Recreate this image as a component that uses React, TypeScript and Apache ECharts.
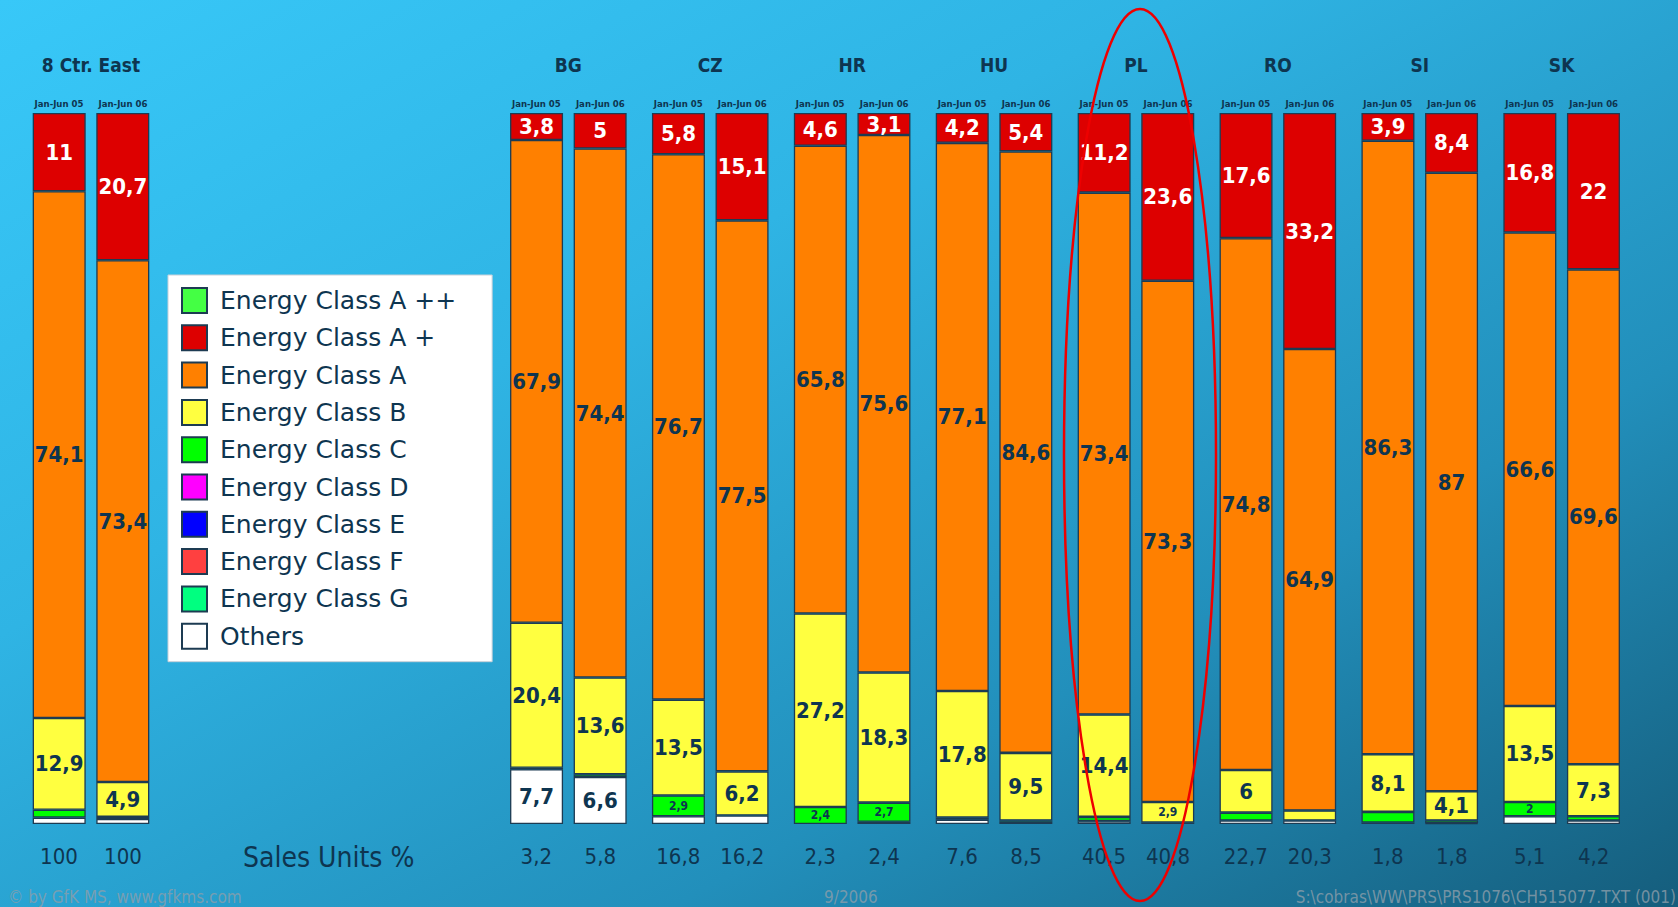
import React, { useEffect, useRef } from "react";
import * as echarts from "echarts";

const categories = ["8 Ctr. East", "BG", "CZ", "HR", "HU", "PL", "RO", "SI", "SK"];
const periodLabels = ["Jan-Jun 05", "Jan-Jun 06"];

const aPlusPlus05 = [0, 0, 0, 0, 0, 0, 0, 0, 0];
const aPlusPlus06 = [0, 0, 0, 0, 0, 0, 0, 0, 0];
const aPlus05 = [11, 3.8, 5.8, 4.6, 4.2, 11.2, 17.6, 3.9, 16.8];
const aPlus06 = [20.7, 5, 15.1, 3.1, 5.4, 23.6, 33.2, 8.4, 22];
const a05 = [74.1, 67.9, 76.7, 65.8, 77.1, 73.4, 74.8, 86.3, 66.6];
const a06 = [73.4, 74.4, 77.5, 75.6, 84.6, 73.3, 64.9, 87, 69.6];
const b05 = [12.9, 20.4, 13.5, 27.2, 17.8, 14.4, 6, 8.1, 13.5];
const b06 = [4.9, 13.6, 6.2, 18.3, 9.5, 2.9, 1.4, 4.1, 7.3];
const c05 = [1.1, 0.2, 2.9, 2.4, 0.3, 0.6, 1.1, 1.5, 2];
const c06 = [0.3, 0.4, 0, 2.7, 0.2, 0, 0, 0.4, 0.6];
const d05 = [0, 0, 0, 0, 0, 0, 0, 0, 0];
const d06 = [0, 0, 0, 0, 0, 0, 0, 0, 0];
const e05 = [0, 0, 0, 0, 0, 0, 0, 0, 0];
const e06 = [0, 0, 0, 0, 0, 0, 0, 0, 0];
const f05 = [0, 0, 0, 0, 0, 0, 0, 0, 0];
const f06 = [0, 0, 0, 0, 0, 0, 0, 0, 0];
const g05 = [0, 0, 0, 0, 0, 0, 0, 0, 0];
const g06 = [0, 0, 0, 0, 0, 0, 0, 0, 0];
const others05 = [0.9, 7.7, 1.1, 0, 0.6, 0.4, 0.5, 0.2, 1.1];
const others06 = [0.7, 6.6, 1.2, 0.3, 0.3, 0.2, 0.5, 0.1, 0.5];

const salesUnits05 = [100, 3.2, 16.8, 2.3, 7.6, 40.5, 22.7, 1.8, 5.1];
const salesUnits06 = [100, 5.8, 16.2, 2.4, 8.5, 40.8, 20.3, 1.8, 4.2];

const classes = [
  { name: "Energy Class A ++", color: "#44ff44", d05: aPlusPlus05, d06: aPlusPlus06 },
  { name: "Energy Class A +", color: "#dd0000", d05: aPlus05, d06: aPlus06 },
  { name: "Energy Class A", color: "#ff8000", d05: a05, d06: a06 },
  { name: "Energy Class B", color: "#ffff40", d05: b05, d06: b06 },
  { name: "Energy Class C", color: "#00ff00", d05: c05, d06: c06 },
  { name: "Energy Class D", color: "#ff00ff", d05: d05, d06: d06 },
  { name: "Energy Class E", color: "#0000ff", d05: e05, d06: e06 },
  { name: "Energy Class F", color: "#ff4040", d05: f05, d06: f06 },
  { name: "Energy Class G", color: "#00ff80", d05: g05, d06: g06 },
  { name: "Others", color: "#ffffff", d05: others05, d06: others06 },
];

const NAVY = "#0e3550";
const COND = "'DejaVu Sans Condensed', 'DejaVu Sans', sans-serif";
const SANS = "'DejaVu Sans', sans-serif";
const FOOT = "rgba(140,158,170,0.8)";
const fmt = (v: number) => String(v).replace(".", ",");

export default function App() {
  const ref = useRef<HTMLDivElement>(null);
  useEffect(() => {
    if (!ref.current) return;
    const chart = echarts.init(ref.current, null, { renderer: "svg" });

    const grids = [
      { left: 20, top: 113, width: 142, height: 711 },
      { left: 497.4, top: 113, width: 1135.2, height: 711 },
    ];
    const gridCats = [categories.slice(0, 1), categories.slice(1)];
    const gridBase = [0, 1];

    const xAxes: any[] = [];
    gridCats.forEach((cats, gi) => {
      const base = gridBase[gi];
      xAxes.push({
        type: "category",
        gridIndex: gi,
        position: "top",
        data: cats,
        axisLine: { show: false },
        axisTick: { show: false },
        axisLabel: {
          interval: 0,
          margin: 5,
          formatter: () => `{p|${periodLabels[0]}}{p|${periodLabels[1]}}`,
          rich: {
            p: { width: 64, align: "center", fontSize: 9.5, fontWeight: "bold", color: NAVY, fontFamily: COND },
          },
        },
      });
      xAxes.push({
        type: "category",
        gridIndex: gi,
        position: "top",
        offset: 30,
        data: cats,
        axisLine: { show: false },
        axisTick: { show: false },
        axisLabel: { interval: 0, margin: 9, fontSize: 19, fontWeight: "bold", color: NAVY, fontFamily: COND },
      });
      xAxes.push({
        type: "category",
        gridIndex: gi,
        position: "bottom",
        data: cats,
        axisLine: { show: false },
        axisTick: { show: false },
        axisLabel: {
          interval: 0,
          margin: 21,
          formatter: (_v: string, i: number) =>
            `{v|${fmt(salesUnits05[base + i])}}{v|${fmt(salesUnits06[base + i])}}`,
          rich: { v: { width: 64, align: "center", fontSize: 22, color: NAVY, fontFamily: COND } },
        },
      });
    });

    const yAxes = grids.map((_, gi) => ({
      type: "value",
      gridIndex: gi,
      min: 0,
      max: 100,
      show: false,
    }));

    const series: any[] = [];
    gridCats.forEach((_cats, gi) => {
      const base = gridBase[gi];
      const count = gridCats[gi].length;
      ["05", "06"].forEach((p) => {
        [...classes].reverse().forEach((cl) => {
          const arr = (p === "05" ? cl.d05 : cl.d06).slice(base, base + count);
          series.push({
            type: "bar",
            name: cl.name,
            stack: `g${gi}p${p}`,
            xAxisIndex: gi * 3,
            yAxisIndex: gi,
            barWidth: 53,
            barGap: "20%",
            data: arr.map((v) => (v === 0 ? "-" : v)),
            itemStyle: { color: cl.color, borderColor: "#1d3b52", borderWidth: 1.3 },
            label: {
              show: true,
              position: "inside",
              color: cl.name === "Energy Class A +" ? "#ffffff" : NAVY,
              fontSize: 22,
              fontWeight: "bold",
              fontFamily: COND,
              formatter: (pr: any) => {
                const v = pr.value;
                if (typeof v !== "number" || v < 2) return "";
                if (v < 3) return `{s|${fmt(v)}}`;
                return fmt(v);
              },
              rich: { s: { fontSize: 12, fontWeight: "bold", color: NAVY, fontFamily: COND } },
            },
          });
        });
      });
    });

    chart.setOption({
      animation: false,
      backgroundColor: new echarts.graphic.LinearGradient(0, 0, 1, 1, [
        { offset: 0, color: "#38c8f8" },
        { offset: 0.35, color: "#2fb4e4" },
        { offset: 0.7, color: "#228fbb" },
        { offset: 1, color: "#155d7c" },
      ]),
      grid: grids,
      xAxis: xAxes,
      yAxis: yAxes,
      legend: {
        orient: "vertical",
        left: 168,
        top: 275,
        data: classes.map((c) => ({ name: c.name, icon: "rect" })),
        backgroundColor: "#ffffff",
        borderColor: "#c8d0d8",
        borderWidth: 1,
        padding: [12, 36, 12, 13],
        itemWidth: 25,
        itemHeight: 25,
        itemGap: 10.3,
        selectedMode: false,
        textStyle: { fontSize: 25, color: NAVY, fontFamily: SANS, padding: [0, 0, 0, 8] },
      },
      graphic: [
        {
          type: "text",
          left: 243,
          top: 843,
          style: { text: "Sales Units %", fontSize: 28, fill: NAVY, fontFamily: COND },
        },
        {
          type: "text",
          left: 8,
          top: 888,
          style: { text: "© by GfK MS, www.gfkms.com", fontSize: 17, fill: FOOT, fontFamily: COND },
        },
        {
          type: "text",
          left: 824,
          top: 888,
          style: { text: "9/2006", fontSize: 17, fill: FOOT, fontFamily: COND },
        },
        {
          type: "text",
          right: 2,
          top: 888,
          style: {
            text: "S:\\cobras\\WW\\PRS\\PRS1076\\CH515077.TXT (001)",
            fontSize: 17,
            fill: FOOT,
            fontFamily: COND,
          },
        },
        {
          type: "ellipse",
          z: 100,
          shape: { cx: 1140, cy: 455, rx: 76, ry: 446 },
          style: { fill: "none", stroke: "#ee0000", lineWidth: 2.5 },
        },
      ],
      series,
    });
    return () => chart.dispose();
  }, []);
  return (
    <div
      ref={ref}
      style={{ position: "absolute", left: 0, top: 0, width: 1678, height: 907 }}
    />
  );
}
